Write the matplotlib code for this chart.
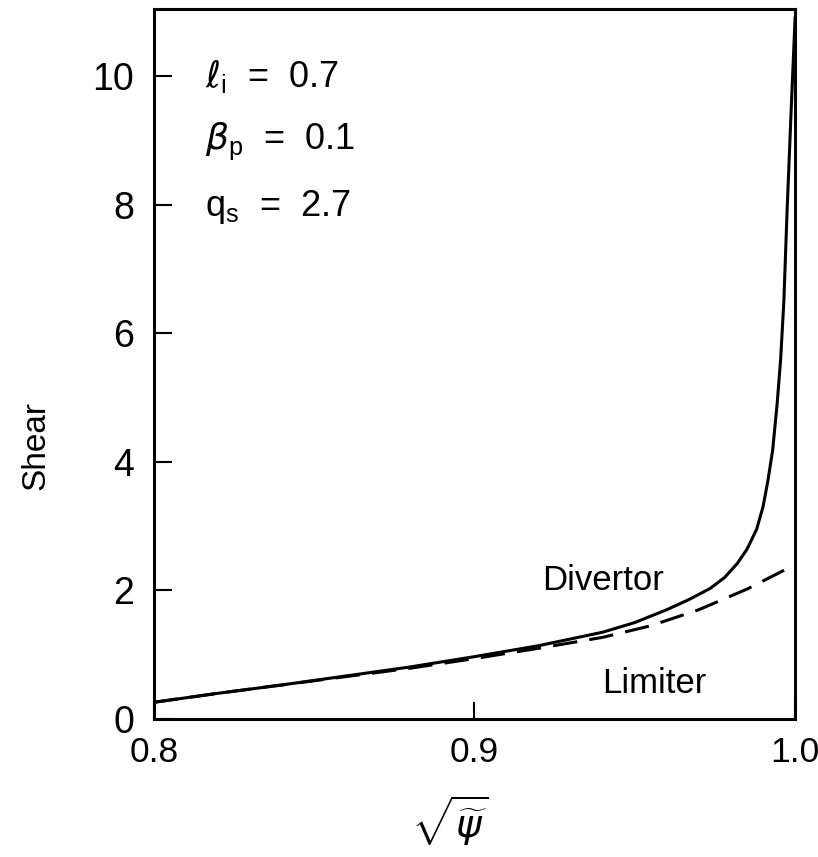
import matplotlib
matplotlib.use("Agg")
import matplotlib.pyplot as plt

# Données (cisaillement vs sqrt(psi~))
x_divertor = [0.80, 0.82, 0.84, 0.86, 0.88, 0.90, 0.92, 0.94, 0.95, 0.96, 0.967, 0.9735,
              0.978, 0.982, 0.985, 0.988, 0.990, 0.9915, 0.993, 0.9944, 0.9955,
              0.9965, 0.9975, 0.9988, 1.0]
y_divertor = [0.26, 0.40, 0.53, 0.67, 0.81, 0.97, 1.14, 1.35, 1.50, 1.70, 1.86, 2.03,
              2.20, 2.42, 2.64, 2.95, 3.30, 3.70, 4.18, 4.90, 5.60,
              6.50, 7.90, 9.50, 10.9]

x_limiter = [0.80, 0.82, 0.84, 0.86, 0.88, 0.90, 0.92, 0.94, 0.955, 0.97, 0.985, 1.0]
y_limiter = [0.26, 0.40, 0.53, 0.66, 0.79, 0.94, 1.10, 1.27, 1.45, 1.70, 2.02, 2.40]

x_ticks = [0.8, 0.9, 1.0]
x_ticklabels = ["0.8", "0.9", "1.0"]
y_ticks = [0, 2, 4, 6, 8, 10]
y_ticklabels = ["0", "2", "4", "6", "8", "10"]

params = [r"$\ell_{\rm i}$  =  0.7", r"$\beta_{\rm p}$  =  0.1", r"$\rm q_s$  =  2.7"]

plt.rcParams['font.family'] = ['Liberation Sans', 'DejaVu Sans']
plt.rcParams['mathtext.fontset'] = 'custom'
plt.rcParams['mathtext.rm'] = 'Liberation Sans'
plt.rcParams['mathtext.it'] = 'DejaVu Sans:italic'

fig = plt.figure(figsize=(8.18, 8.57), dpi=100)
ax = fig.add_axes([0.188, 0.161, 0.784, 0.8285])

ax.plot(x_divertor, y_divertor, color='black', lw=2.2)
ax.plot(x_limiter, y_limiter, color='black', lw=2.2, dashes=(8, 4))

ax.set_xlim(0.8, 1.0)
ax.set_ylim(0, 11.04)
ax.set_xticks(x_ticks)
ax.set_xticklabels(x_ticklabels)
ax.set_yticks(y_ticks)
ax.set_yticklabels(y_ticklabels)
ax.tick_params(direction='in', length=13, width=1.5, labelsize=27, pad=14)
ax.tick_params(axis='x', length=12, pad=12, labelsize=25.5)
for s in ax.spines.values():
    s.set_linewidth(2.2)

ax.set_ylabel("Shear", fontsize=24)
ax.yaxis.set_label_coords(-0.16, 0.385)
ax.set_xlabel(r"$\sqrt{\widetilde{\psi}}$", fontsize=28)
ax.xaxis.set_label_coords(0.462, -0.105)

for i, t in enumerate(params):
    ax.text(0.08, 0.905 - i * 0.092, t, transform=ax.transAxes, fontsize=26,
            va='center', ha='left')

ax.text(0.7, 0.195, "Divertor", transform=ax.transAxes, fontsize=25,
        ha='center', va='center')
ax.text(0.78, 0.05, "Limiter", transform=ax.transAxes, fontsize=25,
        ha='center', va='center')

fig.savefig("out.png", dpi=100)
